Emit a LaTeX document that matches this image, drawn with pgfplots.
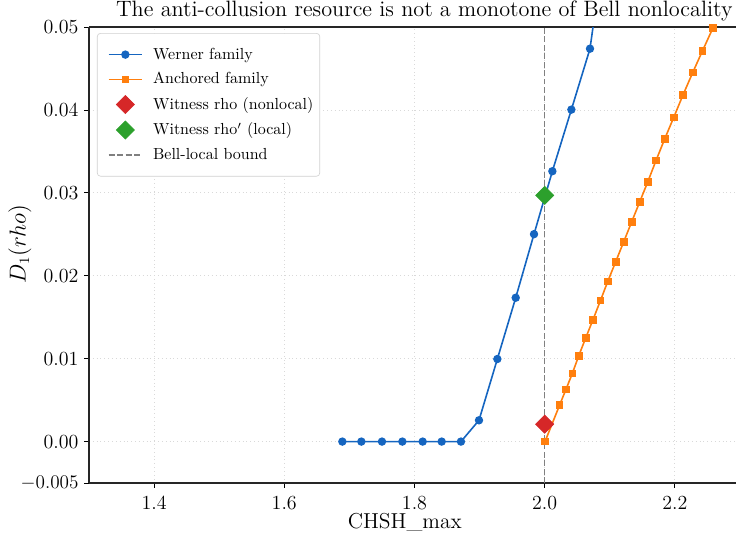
\documentclass[border=0pt]{standalone}
\usepackage{pgfplots}
\pgfplotsset{compat=1.18}
\definecolor{wblue}{HTML}{1565C0}
\definecolor{aorange}{HTML}{FF7F0E}
\definecolor{wred}{HTML}{D62728}
\definecolor{wgreen}{HTML}{2CA02C}
\pgfplotsset{
  linelegend/.style={legend image code/.code={\path (0pt,0pt); \draw[mark repeat=2,mark phase=2,##1] plot coordinates {(4.6pt,0pt) (15.05pt,0pt) (25.5pt,0pt)};}},
  marklegend/.style={legend image code/.code={\path (0pt,0pt) (25.5pt,0pt); \draw[##1] plot coordinates {(15.05pt,0pt)};}},
  dashlegend/.style={legend image code/.code={\path (0pt,0pt); \draw[##1] (4.6pt,0pt) -- (25.5pt,0pt);}},
}
\begin{document}
\begin{tikzpicture}
\begin{axis}[
  at={(0,0)}, anchor=south west,
  scale only axis,
  width=419.1pt, height=285pt,
  xmin=1.3, xmax=2.33,
  ymin=-0.005, ymax=0.05,
  axis x line*=box, axis y line*=left,
  scaled y ticks=false, scaled x ticks=false,
  xtick={1.4,1.6,1.8,2.0,2.2},
  xticklabels={1.4,1.6,1.8,2.0,2.2},
  ytick={-0.005,0,0.01,0.02,0.03,0.04,0.05},
  yticklabels={$-0.005$,0.00,0.01,0.02,0.03,0.04,0.05},
  xtick pos=bottom, ytick pos=left,
  tick align=outside,
  major tick length=3pt,
  tick style={black, line width=0.5pt},
  tick label style={font=\fontsize{12.5}{14}\selectfont},
  xticklabel style={yshift=-1.5pt},
  grid=major,
  grid style={gray!30, dotted, line width=0.5pt},
  axis line style={line width=0.7pt, black!85},
  title={The anti-collusion resource is not a monotone of Bell nonlocality},
  title style={font=\fontsize{13.9}{16}\selectfont, yshift=-6pt},
  xlabel={CHSH\_max},
  ylabel={$D_1(rho)$},
  label style={font=\fontsize{13.5}{16}\selectfont},
  xlabel style={at={(axis description cs:0.471,-0.0987)}, anchor=base},
  ylabel style={at={(axis description cs:-0.103,0.524)}, anchor=center},
  legend style={at={(rel axis cs:0,1)}, anchor=north west, xshift=5pt, yshift=-3.75pt,
    draw=black!18, rounded corners=2pt, fill=white,
    font=\fontsize{10}{12}\selectfont, row sep=2.9pt, inner xsep=2pt, inner ysep=7pt,
    /tikz/every odd column/.append style={column sep=4.4pt}},
  legend cell align=left,
]
\addplot[color=wblue, line width=1pt, mark=*, mark size=2.1pt, mark options={solid, fill=wblue, draw=wblue}, linelegend] coordinates {
(1.6892,0) (1.7184,0) (1.7501,0) (1.7814,0) (1.8126,0) (1.8418,0) (1.8714,0)
(1.8991,0.00257) (1.9273,0.00996) (1.9555,0.01735) (1.9836,0.02502)
(2.0118,0.03261) (2.0410,0.04004) (2.0696,0.04739) (2.0985,0.0636)
};
\addlegendentry{Werner family}
\addplot[color=aorange, line width=1pt, mark=square*, mark size=1.9pt, mark options={solid, fill=aorange, draw=aorange}, linelegend] coordinates {
(2.0005,0) (2.0230,0.00442) (2.0327,0.0063) (2.0425,0.00823) (2.0522,0.01033)
(2.0630,0.0125) (2.0742,0.0147) (2.0856,0.0170) (2.0968,0.0193) (2.1091,0.0217)
(2.1214,0.0241) (2.1336,0.0265) (2.1459,0.0289) (2.1582,0.0313) (2.1710,0.0339)
(2.1843,0.0365) (2.1982,0.0391) (2.2124,0.0418) (2.2273,0.0445) (2.2422,0.0471)
(2.2585,0.0499)
};
\addlegendentry{Anchored family}
\addplot[color=gray, dash pattern=on 3.7pt off 1.6pt, line width=0.9pt, forget plot] coordinates {(2.0,-0.005) (2.0,0.05)};
\addplot[only marks, mark=square*, mark size=4pt, mark options={rotate=45, fill=wred, draw=wred}, marklegend] coordinates {(2.0,0.0021)};
\addlegendentry{Witness rho (nonlocal)}
\addplot[only marks, mark=square*, mark size=4pt, mark options={rotate=45, fill=wgreen, draw=wgreen}, marklegend] coordinates {(2.0,0.0297)};
\addlegendentry{Witness rho$'$ (local)}
\addlegendimage{color=gray, dash pattern=on 3.7pt off 1.6pt, line width=0.9pt, dashlegend}
\addlegendentry{Bell-local bound}
\end{axis}
\pgfresetboundingbox
\path[use as bounding box] (-55.6pt,-33.75pt) rectangle (404.4pt,301.9pt);
\end{tikzpicture}
\end{document}
